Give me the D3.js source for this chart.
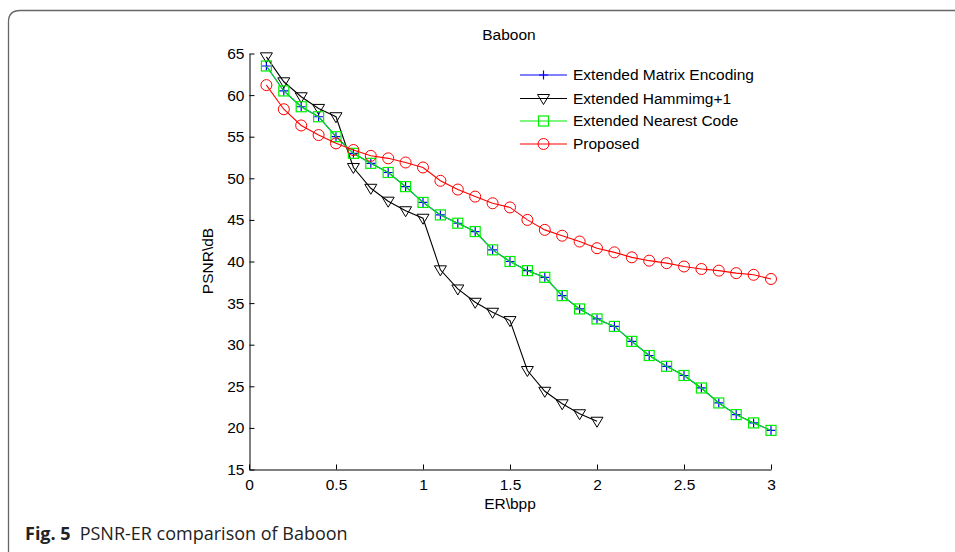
<!DOCTYPE html>
<html>
<head>
  <meta charset="utf-8">
  <script src="https://cdn.jsdelivr.net/npm/d3@7"></script>
  <style>
    body { margin: 0; background: #fff; }
    svg { display: block; }
    .axis text { font-family: "Liberation Sans", Arial, sans-serif; font-size: 15.5px; fill: #000; }
    .axis path, .axis line { stroke: #000; }
    .lbl { font-family: "Liberation Sans", Arial, sans-serif; font-size: 15.5px; fill: #000; }
  </style>
</head>
<body>
<svg id="chart" width="955" height="552"></svg>
<script>
// ER (bpp) sample points
const erMain = [0.1,0.2,0.3,0.4,0.5,0.6,0.7,0.8,0.9,1.0,1.1,1.2,1.3,1.4,1.5,1.6,1.7,1.8,1.9,2.0,
                2.1,2.2,2.3,2.4,2.5,2.6,2.7,2.8,2.9,3.0];
const erHamming = [0.1,0.2,0.3,0.4,0.5,0.6,0.7,0.8,0.9,1.0,1.1,1.2,1.3,1.4,1.5,1.6,1.7,1.8,1.9,2.0];

// PSNR (dB) per method
const matrixEncoding = [63.5,60.5,58.6,57.4,55.0,53.0,51.8,50.7,49.0,47.1,45.6,44.6,43.6,41.4,40.0,
                        38.9,38.1,35.9,34.3,33.1,32.2,30.4,28.7,27.4,26.3,24.8,23.0,21.6,20.6,19.7];
const hammingPlus1 = [64.6,61.6,59.8,58.4,57.4,51.3,48.8,47.25,46.1,45.2,39.0,36.7,35.1,33.9,32.9,
                      26.9,24.4,22.9,21.7,20.8];
const nearestCode = [63.5,60.5,58.6,57.4,55.0,53.0,51.8,50.7,49.0,47.1,45.6,44.6,43.6,41.4,40.0,
                     38.9,38.1,35.9,34.3,33.1,32.2,30.4,28.7,27.4,26.3,24.8,23.0,21.6,20.6,19.7];
const proposed = [61.2,58.3,56.35,55.2,54.2,53.4,52.7,52.4,51.9,51.3,49.7,48.65,47.8,47.0,46.5,
                  45.0,43.8,43.1,42.4,41.6,41.1,40.5,40.1,39.8,39.4,39.1,38.9,38.6,38.4,37.9];

const xTicks = [0, 0.5, 1, 1.5, 2, 2.5, 3];
const yTicks = [15, 20, 25, 30, 35, 40, 45, 50, 55, 60, 65];

const series = [
  { name: "Extended Matrix Encoding", x: erMain, y: matrixEncoding, color: "#0000ff", marker: "plus" },
  { name: "Extended Hammimg+1", x: erHamming, y: hammingPlus1, color: "#000000", marker: "tri" },
  { name: "Extended Nearest Code", x: erMain, y: nearestCode, color: "#00ee00", marker: "square" },
  { name: "Proposed", x: erMain, y: proposed, color: "#ff0000", marker: "circle" }
];

const svg = d3.select("#chart");

// figure frame (rounded corner top-left, runs off the page)
svg.append("path")
  .attr("d", "M8.5,560 L8.5,22 Q8.5,10.5 20,10.5 L960,10.5")
  .attr("fill", "none").attr("stroke", "#666").attr("stroke-width", 1.3);

const x = d3.scaleLinear().domain([0, 3]).range([249, 771]);
const y = d3.scaleLinear().domain([15, 65]).range([469.5, 53.5]);

svg.append("g").attr("class", "axis")
  .attr("transform", "translate(0,469.5)")
  .call(d3.axisBottom(x).tickValues(xTicks).tickFormat(d3.format("")).tickSizeInner(-5).tickSizeOuter(0).tickPadding(9));

svg.append("g").attr("class", "axis")
  .attr("transform", "translate(249.5,0)")
  .call(d3.axisLeft(y).tickValues(yTicks).tickSizeInner(-5).tickSizeOuter(0).tickPadding(5));

function drawMarker(g, type, color) {
  if (type === "plus") {
    g.append("path").attr("d", "M-4.5,0H4.5M0,-4.5V4.5").attr("stroke", color).attr("stroke-width", 1.2).attr("fill", "none");
  } else if (type === "tri") {
    g.append("path").attr("d", "M-6,-4L6,-4L0,6Z").attr("stroke", color).attr("fill", "none");
  } else if (type === "square") {
    g.append("rect").attr("x", -5).attr("y", -5).attr("width", 10).attr("height", 10)
      .attr("stroke", color).attr("fill", "none").attr("stroke-width", 1.2);
  } else {
    g.append("circle").attr("r", 5.5).attr("stroke", color).attr("fill", "none");
  }
}

const line = d3.line();
series.forEach(s => {
  const pts = s.x.map((v, i) => [x(v), y(s.y[i])]);
  svg.append("path").attr("d", line(pts)).attr("fill", "none")
    .attr("stroke", s.color).attr("stroke-width", 1.1);
  pts.forEach(p => {
    const g = svg.append("g").attr("transform", `translate(${p[0]},${p[1]})`);
    drawMarker(g, s.marker, s.color);
  });
});

// legend
const legendY = [75, 98.5, 121, 144];
series.forEach((s, i) => {
  const g = svg.append("g").attr("transform", `translate(0,${legendY[i]})`);
  g.append("line").attr("x1", 520).attr("x2", 567).attr("stroke", s.color).attr("stroke-width", 1.1);
  const m = g.append("g").attr("transform", "translate(543.5,0)");
  drawMarker(m, s.marker, s.color);
  g.append("text").attr("class", "lbl").attr("x", 573).attr("dy", "0.35em").text(s.name);
});

// titles
svg.append("text").attr("class", "lbl").attr("x", 509).attr("y", 35).attr("dy", "0.35em")
  .attr("text-anchor", "middle").text("Baboon");
svg.append("text").attr("class", "lbl").attr("x", 510).attr("y", 504).attr("dy", "0.35em")
  .attr("text-anchor", "middle").text("ER\\bpp");
svg.append("text").attr("class", "lbl")
  .attr("transform", "translate(208,261) rotate(-90)").attr("dy", "0.35em")
  .attr("text-anchor", "middle").text("PSNR\\dB");

// caption
const cap = svg.append("text").attr("x", 25).attr("y", 540)
  .style("font-family", "'Open Sans', 'Noto Sans', sans-serif").style("font-size", "18px").attr("fill", "#222");
cap.append("tspan").style("font-weight", "bold").text("Fig. 5");
cap.append("tspan").attr("dx", 9).text("PSNR-ER comparison of Baboon");
</script>
</body>
</html>
